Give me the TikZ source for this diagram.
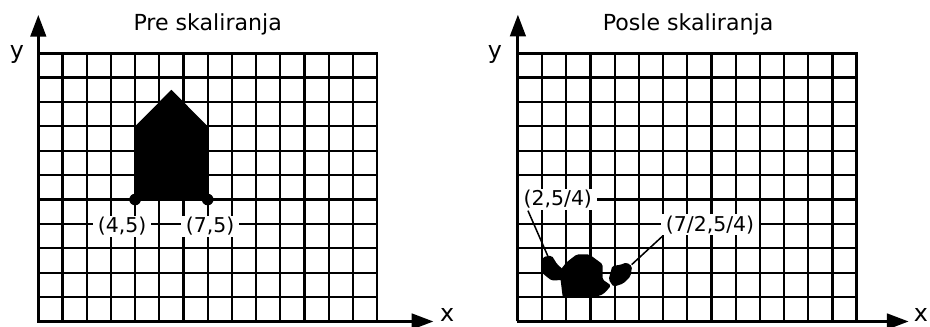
\documentclass[tikz,border=0pt]{standalone}
\usepackage{fontspec}
\setmainfont{DejaVu Sans}
\usetikzlibrary{arrows.meta}

\tikzset{
    gridline/.style={line width=1.3pt, xstep=0.5cm, ystep=0.504cm},
    frameline/.style={line width=1.6pt},
    axis/.style={line width=1.8pt, -{Triangle[length=4.5mm,width=3.2mm]}},
    coordlabel/.style={fill=white, inner xsep=3pt, inner ysep=1pt, font=\fontsize{12}{14}\selectfont},
    paneltitle/.style={font=\fontsize{13}{15}\selectfont},
    axislabel/.style={inner sep=0pt, font=\fontsize{14}{16}\selectfont},
    leader/.style={line width=0.9pt},
}

\begin{document}
\begin{tikzpicture}[x=0.5cm, y=0.504cm]
    \useasboundingbox (-1.583,-0.217) rectangle (36.85,13.18);

    \draw[gridline] (0,0) grid (14,11);
    \draw[frameline] (0,0) rectangle (14,11);
    \fill (4,5) -- (7,5) -- (7,8) -- (5.5,9.5) -- (4,8) -- cycle;
    \fill (4,5) circle (1.2mm) (7,5) circle (1.2mm);
    \node[coordlabel] (p45) at (3.46,3.9) {(4,5)};
    \node[coordlabel] (p75) at (7.1,3.9) {(7,5)};
    \draw[axis] (0,0) -- (0,12.57);
    \draw[axis] (0,0) -- (16.33,0);
    \node[axislabel] (ypre) at (-0.88,10.95) {y};
    \node[axislabel] (xpre) at (16.9,0.25) {x};
    \node[paneltitle] (tpre) at (7.0,12.16) {Pre skaliranja};

    \begin{scope}[xshift=9.91cm]
        \draw[gridline] (0,0) grid (14,11);
        \draw[frameline] (0,0) rectangle (14,11);
        \fill[rounded corners=1pt] (2.43,2.75) -- (2.95,2.75) -- (3.5,2.35) -- (3.5,1.72) -- (3.85,1.48)
            -- (3.62,1.2) -- (3.39,1.05) -- (1.85,1.0) -- (1.78,1.58) -- (1.72,2.06) -- (2.0,2.42) -- cycle;
        \fill[rounded corners=1pt] (1.05,2.65) -- (1.4,2.7) -- (1.62,2.35) -- (1.9,2.1) -- (1.85,1.7)
            -- (1.39,1.68) -- (1.02,1.97) -- (0.95,2.40) -- cycle;
        \fill[rounded corners=1pt] (3.9,2.28) -- (4.22,2.32) -- (4.49,2.42) -- (4.72,2.26) -- (4.65,1.85)
            -- (4.36,1.56) -- (3.95,1.42) -- (3.75,1.72) -- cycle;
        \coordinate (tipl) at (1.25,2.65);
        \coordinate (tipr) at (4.70,2.33);
        \node[coordlabel] (p254) at (1.65,5.0) {(2,5/4)};
        \node[coordlabel] (p7254) at (7.94,3.97) {(7/2,5/4)};
        \draw[leader] ([xshift=2mm]p254.south west) -- (tipl);
        \draw[leader] ([xshift=0.5mm]p7254.south west) -- (tipr);
        \draw[axis] (0,0) -- (0,12.58);
        \draw[axis] (0,0) -- (16.15,0);
        \node[axislabel] (yposle) at (-0.95,10.95) {y};
        \node[axislabel] (xposle) at (16.65,0.25) {x};
        \node[paneltitle] (tposle) at (7.03,12.16) {Posle skaliranja};
    \end{scope}
\end{tikzpicture}
\end{document}
